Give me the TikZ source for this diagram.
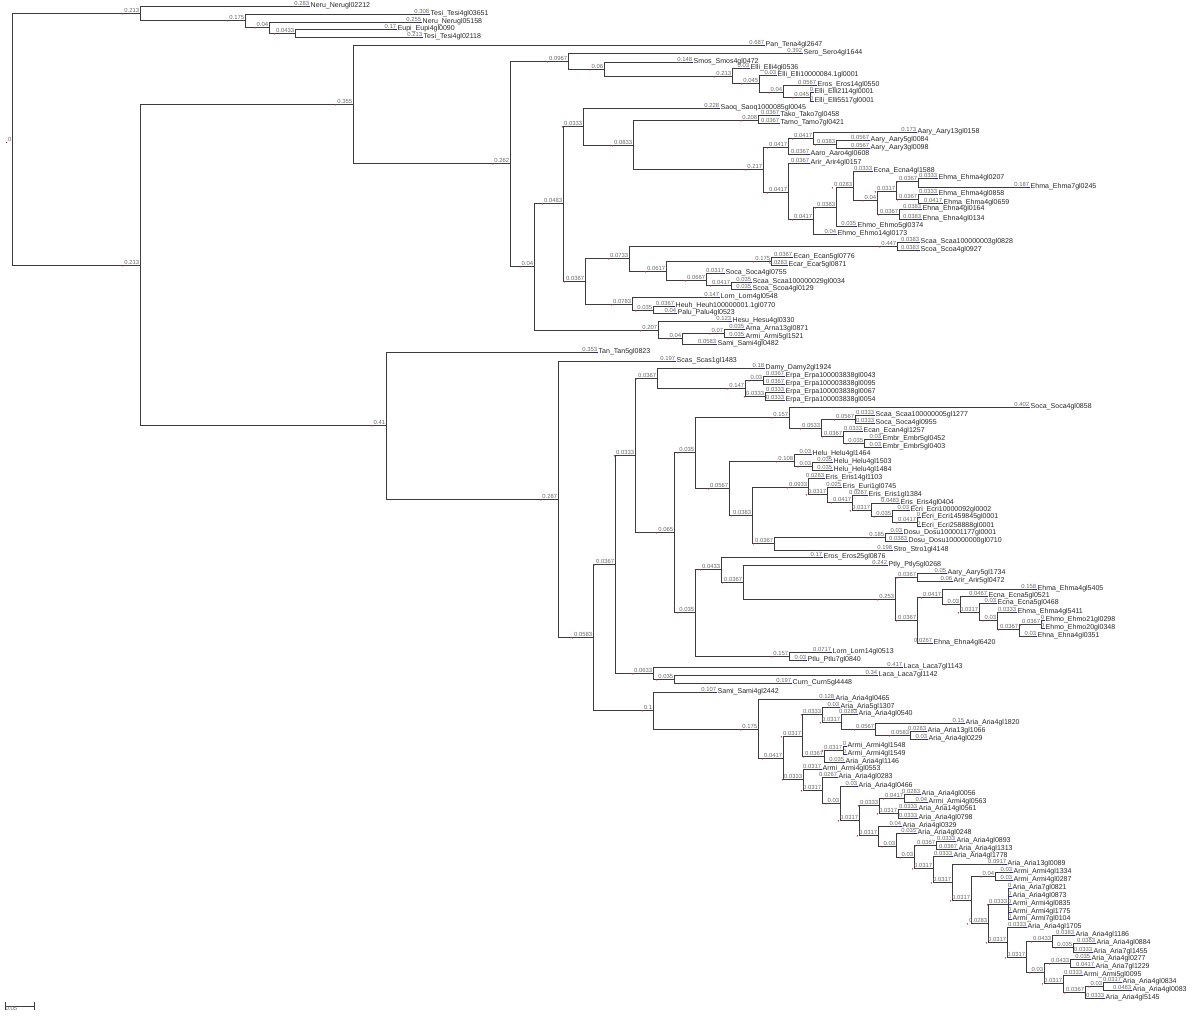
\documentclass[tikz,border=0pt]{standalone}
\usepackage{fontspec}
\setmainfont{Liberation Sans}
\usetikzlibrary{backgrounds}
\definecolor{branchgray}{RGB}{60, 60, 60}
\definecolor{lengray}{RGB}{105, 105, 105}
\definecolor{tipblue}{RGB}{30, 30, 210}
\definecolor{nodered}{RGB}{210, 40, 40}

\begin{document}
\begin{tikzpicture}[x=0.025cm, y=-0.025cm,
    branch/.style={draw=branchgray, line width=0.6pt},
    blen/.style={anchor=south east, inner sep=0.3pt, text=lengray, font=\fontsize{4.2}{4.2}\selectfont},
    reddot/.style={circle, fill=nodered, inner sep=0pt, minimum size=1.1pt},
    ilen/.style={blen, label={[reddot]south west:{}}},
    leaf/.style={anchor=west, inner sep=0.3pt, text=black!85, font=\fontsize{5}{5}\selectfont,
        append after command={([xshift=-2.4pt]\tikzlastnode.west) edge[draw=tipblue, line width=0.7pt] (\tikzlastnode.west)}}
]
\useasboundingbox (0,0) rectangle (1200,1016);

% Internal nodes
\coordinate (root) at (12,139);
\coordinate (a1) at (140,13); \coordinate (a2) at (245,20); \coordinate (a3) at (269,27); \coordinate (a4) at (295,33);
\coordinate (b1) at (140,265); \coordinate (b2) at (353,104); \coordinate (b3) at (510,163); \coordinate (b4) at (568,61);
\coordinate (b5) at (534,266); \coordinate (b6) at (604,69); \coordinate (b7) at (732,76); \coordinate (b8) at (759,83);
\coordinate (b9) at (783,92); \coordinate (b10) at (810,97); \coordinate (b11) at (563,203); \coordinate (b12) at (658,330);
\coordinate (b13) at (583,126); \coordinate (b14) at (585,281); \coordinate (b15) at (633,145); \coordinate (b16) at (758,120);
\coordinate (b17) at (763,169); \coordinate (b18) at (788,147); \coordinate (b19) at (788,192); \coordinate (b20) at (813,138);
\coordinate (b21) at (836,144); \coordinate (b22) at (813,219); \coordinate (b23) at (836,207); \coordinate (b24) at (853,187);
\coordinate (b25) at (877,200); \coordinate (b26) at (896,191); \coordinate (b27) at (899,214); \coordinate (b28) at (918,181);
\coordinate (b29) at (918,199); \coordinate (b30) at (629,258); \coordinate (b31) at (632,304); \coordinate (b32) at (897,246);
\coordinate (b33) at (666,271); \coordinate (b34) at (771,261); \coordinate (b35) at (706,280); \coordinate (b36) at (731,285);
\coordinate (b37) at (653,310); \coordinate (b38) at (682,338); \coordinate (b39) at (724,333);
\coordinate (c1) at (386,425); \coordinate (c2) at (558,499); \coordinate (c3) at (593,637); \coordinate (c4) at (615,564);
\coordinate (c5) at (653,710); \coordinate (c6) at (635,455); \coordinate (c7) at (653,673); \coordinate (c8) at (657,378);
\coordinate (c9) at (674,532); \coordinate (c10) at (745,388); \coordinate (c11) at (763,380); \coordinate (c12) at (765,396);
\coordinate (c13) at (695,452); \coordinate (c14) at (695,612); \coordinate (c15) at (789,417); \coordinate (c16) at (729,488);
\coordinate (c17) at (821,428); \coordinate (c18) at (855,419); \coordinate (c19) at (843,436); \coordinate (c20) at (864,443);
\coordinate (c21) at (794,461); \coordinate (c22) at (752,515); \coordinate (c23) at (812,466); \coordinate (c24) at (808,487);
\coordinate (c25) at (774,543); \coordinate (c26) at (827,494); \coordinate (c27) at (852,502); \coordinate (c28) at (871,510);
\coordinate (c29) at (892,516); \coordinate (c30) at (917,522); \coordinate (c31) at (885,537); \coordinate (c32) at (721,569);
\coordinate (c33) at (789,656); \coordinate (c34) at (743,582); \coordinate (c35) at (895,599); \coordinate (c36) at (917,577);
\coordinate (c37) at (917,620); \coordinate (c38) at (942,597); \coordinate (c39) at (960,604); \coordinate (c40) at (979,612);
\coordinate (c41) at (997,620); \coordinate (c42) at (1019,629); \coordinate (c43) at (1041,624); \coordinate (c44) at (674,679);
\coordinate (c45) at (758,729); \coordinate (c46) at (783,758); \coordinate (c47) at (802,736); \coordinate (c48) at (803,779);
\coordinate (c49) at (822,714); \coordinate (c50) at (824,756); \coordinate (c51) at (841,722); \coordinate (c52) at (875,729);
\coordinate (c53) at (910,735); \coordinate (c54) at (843,750); \coordinate (c55) at (822,790); \coordinate (c56) at (840,803);
\coordinate (c57) at (859,820); \coordinate (c58) at (879,805); \coordinate (c59) at (878,835); \coordinate (c60) at (904,798);
\coordinate (c61) at (898,813); \coordinate (c62) at (896,846); \coordinate (c63) at (914,857); \coordinate (c64) at (936,845);
\coordinate (c65) at (933,868); \coordinate (c66) at (952,882); \coordinate (c67) at (971,900); \coordinate (c68) at (995,876);
\coordinate (c69) at (988,923); \coordinate (c70) at (1008,904); \coordinate (c71) at (1007,942); \coordinate (c72) at (1026,957);
\coordinate (c73) at (1052,941); \coordinate (c74) at (1044,972); \coordinate (c75) at (1073,947); \coordinate (c76) at (1070,963);
\coordinate (c77) at (1063,983); \coordinate (c78) at (1085,992); \coordinate (c79) at (1103,986);

% Root label
\node[ilen, anchor=east] (rootlen) at (root) {0};

% Leaves
\node[leaf] (L1) at (310,6) {Neru\_Nerugl02212};
\node[leaf] (L2) at (430,14) {Tesi\_Tesi4gl03651};
\node[leaf] (L3) at (422,22) {Neru\_Nerugl05158};
\node[leaf] (L4) at (397,29) {Eupi\_Eupi4gl0090};
\node[leaf] (L5) at (423,37) {Tesi\_Tesi4gl02118};
\node[leaf] (L6) at (765,45) {Pan\_Tena4gl2647};
\node[leaf] (L7) at (803,53) {Sero\_Sero4gl1644};
\node[leaf] (L8) at (693,62) {Smos\_Smos4gl0472};
\node[leaf] (L9) at (750,68) {Elli\_Elli4gl0536};
\node[leaf] (L10) at (777,75) {Elli\_Elli10000084.1gl0001};
\node[leaf] (L11) at (817,85) {Eros\_Eros14gl0550};
\node[leaf] (L12) at (814,92) {Elli\_Elli2114gl0001};
\node[leaf] (L13) at (814,101) {Elli\_Elli5517gl0001};
\node[leaf] (L14) at (720,108) {Saoq\_Saoq1000085gl0045};
\node[leaf] (L15) at (780,115) {Tako\_Tako7gl0458};
\node[leaf] (L16) at (780,123) {Tamo\_Tamo7gl0421};
\node[leaf] (L18) at (917,132) {Aary\_Aary13gl0158};
\node[leaf] (L19) at (870,140) {Aary\_Aary5gl0084};
\node[leaf] (L20) at (870,148) {Aary\_Aary3gl0098};
\node[leaf] (L17) at (810,154) {Aaro\_Aaro4gl0608};
\node[leaf] (L21) at (810,163) {Arir\_Arir4gl0157};
\node[leaf] (L24) at (873,171) {Ecna\_Ecna4gl1588};
\node[leaf] (L25) at (938,178) {Ehma\_Ehma4gl0207};
\node[leaf] (L26) at (1030,187) {Ehma\_Ehma7gl0245};
\node[leaf] (L27) at (938,194) {Ehma\_Ehma4gl0858};
\node[leaf] (L28) at (943,203) {Ehma\_Ehma4gl0659};
\node[leaf] (L29) at (922,209) {Ehna\_Ehna4gl0164};
\node[leaf] (L30) at (922,219) {Ehna\_Ehna4gl0134};
\node[leaf] (L23) at (857,226) {Ehmo\_Ehmo5gl0374};
\node[leaf] (L22) at (837,234) {Ehmo\_Ehmo14gl0173};
\node[leaf] (L31) at (920,242) {Scaa\_Scaa100000003gl0828};
\node[leaf] (L32) at (920,250) {Scoa\_Scoa4gl0927};
\node[leaf] (L33) at (793,257) {Ecan\_Ecan5gl0776};
\node[leaf] (L34) at (788,265) {Ecar\_Ecar5gl0871};
\node[leaf] (L35) at (725,273) {Soca\_Soca4gl0755};
\node[leaf] (L36) at (752,282) {Scaa\_Scaa100000029gl0034};
\node[leaf] (L37) at (752,289) {Scoa\_Scoa4gl0129};
\node[leaf] (L38) at (720,297) {Lorn\_Lorn4gl0548};
\node[leaf] (L39) at (675,306) {Heuh\_Heuh100000001.1gl0770};
\node[leaf] (L40) at (677,313) {Palu\_Palu4gl0523};
\node[leaf] (L41) at (732,321) {Hesu\_Hesu4gl0330};
\node[leaf] (L43) at (745,329) {Arna\_Arna13gl0871};
\node[leaf] (L44) at (745,337) {Armi\_Armi5gl1521};
\node[leaf] (L42) at (717,344) {Sami\_Sami4gl0482};
\node[leaf] (L45) at (598,352) {Tan\_Tan5gl0823};
\node[leaf] (L46) at (676,361) {Scas\_Scas1gl1483};
\node[leaf] (L47) at (765,368) {Damy\_Damy2gl1924};
\node[leaf] (L48) at (785,376) {Erpa\_Erpa100003838gl0043};
\node[leaf] (L49) at (785,384) {Erpa\_Erpa100003838gl0095};
\node[leaf] (L50) at (785,392) {Erpa\_Erpa100003838gl0067};
\node[leaf] (L51) at (785,400) {Erpa\_Erpa100003838gl0054};
\node[leaf] (L52) at (1030,407) {Soca\_Soca4gl0858};
\node[leaf] (L53) at (875,415) {Scaa\_Scaa100000005gl1277};
\node[leaf] (L54) at (875,423) {Soca\_Soca4gl0955};
\node[leaf] (L55) at (863,431) {Ecan\_Ecan4gl1257};
\node[leaf] (L56) at (882,439) {Embr\_Embr5gl0452};
\node[leaf] (L57) at (882,447) {Embr\_Embr5gl0403};
\node[leaf] (L58) at (812,454) {Helu\_Helu4gl1464};
\node[leaf] (L59) at (833,462) {Helu\_Helu4gl1503};
\node[leaf] (L60) at (833,470) {Helu\_Helu4gl1484};
\node[leaf] (L61) at (825,478) {Eris\_Eris14gl1103};
\node[leaf] (L62) at (842,487) {Eris\_Euri1gl0745};
\node[leaf] (L63) at (868,495) {Eris\_Eris1gl1384};
\node[leaf] (L64) at (900,503) {Eris\_Eris4gl0404};
\node[leaf] (L65) at (910,510) {Ecri\_Ecri10000092gl0002};
\node[leaf] (L66) at (921,517) {Ecri\_Ecri1459845gl0001};
\node[leaf] (L67) at (921,526) {Ecri\_Ecri258888gl0001};
\node[leaf] (L69) at (903,533) {Dosu\_Dosu100001177gl0001};
\node[leaf] (L70) at (908,541) {Dosu\_Dosu100000000gl0710};
\node[leaf] (L68) at (893,550) {Stro\_Stro1gl4148};
\node[leaf] (L73) at (823,557) {Eros\_Eros25gl0876};
\node[leaf] (L74) at (888,565) {Ptly\_Ptly5gl0268};
\node[leaf] (L75) at (947,573) {Aary\_Aary5gl1734};
\node[leaf] (L76) at (953,581) {Arir\_Arir5gl0472};
\node[leaf] (L78) at (1037,589) {Ehma\_Ehma4gl5405};
\node[leaf] (L79) at (988,596) {Ecna\_Ecna5gl0521};
\node[leaf] (L80) at (997,603) {Ecna\_Ecna5gl0468};
\node[leaf] (L81) at (1017,612) {Ehma\_Ehma4gl5411};
\node[leaf] (L83) at (1045,620) {Ehmo\_Ehmo21gl0298};
\node[leaf] (L84) at (1045,628) {Ehmo\_Ehmo20gl0348};
\node[leaf] (L82) at (1037,636) {Ehna\_Ehna4gl0351};
\node[leaf] (L77) at (933,643) {Ehna\_Ehna4gl6420};
\node[leaf] (L71) at (832,652) {Lorn\_Lorn14gl0513};
\node[leaf] (L72) at (807,660) {Ptlu\_Ptlu7gl0840};
\node[leaf] (L85) at (903,667) {Laca\_Laca7gl1143};
\node[leaf] (L86) at (878,675) {Laca\_Laca7gl1142};
\node[leaf] (L87) at (792,683) {Curn\_Curn5gl4448};
\node[leaf] (L88) at (717,692) {Sami\_Sami4gl2442};
\node[leaf] (L89) at (835,699) {Aria\_Aria4gl0465};
\node[leaf] (L90) at (840,707) {Aria\_Aria5gl1307};
\node[leaf] (L91) at (858,714) {Aria\_Aria4gl0540};
\node[leaf] (L92) at (965,723) {Aria\_Aria4gl1820};
\node[leaf] (L93) at (927,731) {Aria\_Aria13gl1066};
\node[leaf] (L94) at (928,739) {Aria\_Aria4gl0229};
\node[leaf] (L96) at (847,746) {Armi\_Armi4gl1548};
\node[leaf] (L97) at (847,754) {Armi\_Armi4gl1549};
\node[leaf] (L95) at (845,762) {Aria\_Aria4gl1146};
\node[leaf] (L98) at (822,769) {Armi\_Armi4gl0553};
\node[leaf] (L99) at (838,777) {Aria\_Aria4gl0283};
\node[leaf] (L100) at (858,786) {Aria\_Aria4gl0466};
\node[leaf] (L101) at (921,794) {Aria\_Aria4gl0056};
\node[leaf] (L102) at (928,802) {Armi\_Armi4gl0563};
\node[leaf] (L103) at (918,809) {Aria\_Aria14gl0561};
\node[leaf] (L104) at (918,818) {Aria\_Aria4gl0798};
\node[leaf] (L105) at (902,826) {Aria\_Aria4gl0329};
\node[leaf] (L106) at (917,833) {Aria\_Aria4gl0248};
\node[leaf] (L107) at (956,841) {Aria\_Aria4gl0893};
\node[leaf] (L108) at (958,849) {Aria\_Aria4gl1313};
\node[leaf] (L109) at (953,856) {Aria\_Aria4gl1778};
\node[leaf] (L110) at (1007,864) {Aria\_Aria13gl0089};
\node[leaf] (L111) at (1013,872) {Armi\_Armi4gl1334};
\node[leaf] (L112) at (1013,880) {Armi\_Armi4gl0287};
\node[leaf] (L113) at (1012,888) {Aria\_Aria7gl0821};
\node[leaf] (L114) at (1012,896) {Aria\_Aria4gl0873};
\node[leaf] (L115) at (1012,904) {Armi\_Armi4gl0835};
\node[leaf] (L116) at (1012,912) {Armi\_Armi4gl1775};
\node[leaf] (L117) at (1012,919) {Armi\_Armi7gl0104};
\node[leaf] (L118) at (1027,927) {Aria\_Aria4gl1705};
\node[leaf] (L119) at (1075,935) {Aria\_Aria4gl1186};
\node[leaf] (L120) at (1096,943) {Aria\_Aria4gl0884};
\node[leaf] (L121) at (1093,952) {Aria\_Aria7gl1455};
\node[leaf] (L122) at (1091,959) {Aria\_Aria4gl0277};
\node[leaf] (L123) at (1095,967) {Aria\_Aria7gl1229};
\node[leaf] (L124) at (1083,975) {Armi\_Armi5gl0095};
\node[leaf] (L126) at (1122,982) {Aria\_Aria4gl0834};
\node[leaf] (L127) at (1132,990) {Aria\_Aria4gl0083};
\node[leaf] (L125) at (1105,998) {Aria\_Aria4gl5145};

% Branches
\begin{scope}[on background layer]
\draw[branch] (root) |- (a1) node[ilen] {0.213};
\draw[branch] (root) |- (b1) node[ilen] {0.213};
\draw[branch] (a1) |- (L1.west) node[blen] {0.283};
\draw[branch] (a1) |- (a2) node[ilen] {0.175};
\draw[branch] (a2) |- (L2.west) node[blen] {0.308};
\draw[branch] (a2) |- (a3) node[ilen] {0.04};
\draw[branch] (a3) |- (L3.west) node[blen] {0.255};
\draw[branch] (a3) |- (a4) node[ilen] {0.0433};
\draw[branch] (a4) |- (L4.west) node[blen] {0.17};
\draw[branch] (a4) |- (L5.west) node[blen] {0.213};
\draw[branch] (b1) |- (b2) node[ilen] {0.355};
\draw[branch] (b1) |- (c1) node[ilen] {0.41};
\draw[branch] (b2) |- (L6.west) node[blen] {0.687};
\draw[branch] (b2) |- (b3) node[ilen] {0.262};
\draw[branch] (b3) |- (b4) node[ilen] {0.0967};
\draw[branch] (b3) |- (b5) node[ilen] {0.04};
\draw[branch] (b4) |- (L7.west) node[blen] {0.392};
\draw[branch] (b4) |- (b6) node[ilen] {0.06};
\draw[branch] (b6) |- (L8.west) node[blen] {0.148};
\draw[branch] (b6) |- (b7) node[ilen] {0.213};
\draw[branch] (b7) |- (L9.west) node[blen] {0.03};
\draw[branch] (b7) |- (b8) node[ilen] {0.045};
\draw[branch] (b8) |- (L10.west) node[blen] {0.03};
\draw[branch] (b8) |- (b9) node[ilen] {0.04};
\draw[branch] (b9) |- (L11.west) node[blen] {0.0567};
\draw[branch] (b9) |- (b10) node[ilen] {0.045};
\draw[branch] (b10) |- (L12.west) node[blen] {0};
\draw[branch] (b10) |- (L13.west) node[blen] {0};
\draw[branch] (b5) |- (b11) node[ilen] {0.0483};
\draw[branch] (b5) |- (b12) node[ilen] {0.207};
\draw[branch] (b11) |- (b13) node[ilen] {0.0333};
\draw[branch] (b11) |- (b14) node[ilen] {0.0367};
\draw[branch] (b13) |- (L14.west) node[blen] {0.228};
\draw[branch] (b13) |- (b15) node[ilen] {0.0833};
\draw[branch] (b15) |- (b16) node[ilen] {0.208};
\draw[branch] (b15) |- (b17) node[ilen] {0.217};
\draw[branch] (b16) |- (L15.west) node[blen] {0.0367};
\draw[branch] (b16) |- (L16.west) node[blen] {0.0367};
\draw[branch] (b17) |- (b18) node[ilen] {0.0417};
\draw[branch] (b17) |- (b19) node[ilen] {0.0417};
\draw[branch] (b18) |- (b20) node[ilen] {0.0417};
\draw[branch] (b18) |- (L17.west) node[blen] {0.0367};
\draw[branch] (b20) |- (L18.west) node[blen] {0.173};
\draw[branch] (b20) |- (b21) node[ilen] {0.0383};
\draw[branch] (b21) |- (L19.west) node[blen] {0.0567};
\draw[branch] (b21) |- (L20.west) node[blen] {0.0567};
\draw[branch] (b19) |- (L21.west) node[blen] {0.0367};
\draw[branch] (b19) |- (b22) node[ilen] {0.0417};
\draw[branch] (b22) |- (b23) node[ilen] {0.0383};
\draw[branch] (b22) |- (L22.west) node[blen] {0.04};
\draw[branch] (b23) |- (b24) node[ilen] {0.0283};
\draw[branch] (b23) |- (L23.west) node[blen] {0.035};
\draw[branch] (b24) |- (L24.west) node[blen] {0.0333};
\draw[branch] (b24) |- (b25) node[ilen] {0.04};
\draw[branch] (b25) |- (b26) node[ilen] {0.0317};
\draw[branch] (b25) |- (b27) node[ilen] {0.0367};
\draw[branch] (b26) |- (b28) node[ilen] {0.0367};
\draw[branch] (b26) |- (b29) node[ilen] {0.0367};
\draw[branch] (b28) |- (L25.west) node[blen] {0.0333};
\draw[branch] (b28) |- (L26.west) node[blen] {0.187};
\draw[branch] (b29) |- (L27.west) node[blen] {0.0333};
\draw[branch] (b29) |- (L28.west) node[blen] {0.0417};
\draw[branch] (b27) |- (L29.west) node[blen] {0.0383};
\draw[branch] (b27) |- (L30.west) node[blen] {0.0383};
\draw[branch] (b14) |- (b30) node[ilen] {0.0733};
\draw[branch] (b14) |- (b31) node[ilen] {0.0783};
\draw[branch] (b30) |- (b32) node[ilen] {0.447};
\draw[branch] (b30) |- (b33) node[ilen] {0.0617};
\draw[branch] (b32) |- (L31.west) node[blen] {0.0383};
\draw[branch] (b32) |- (L32.west) node[blen] {0.0383};
\draw[branch] (b33) |- (b34) node[ilen] {0.175};
\draw[branch] (b33) |- (b35) node[ilen] {0.0667};
\draw[branch] (b34) |- (L33.west) node[blen] {0.0367};
\draw[branch] (b34) |- (L34.west) node[blen] {0.0283};
\draw[branch] (b35) |- (L35.west) node[blen] {0.0317};
\draw[branch] (b35) |- (b36) node[ilen] {0.0417};
\draw[branch] (b36) |- (L36.west) node[blen] {0.035};
\draw[branch] (b36) |- (L37.west) node[blen] {0.035};
\draw[branch] (b31) |- (L38.west) node[blen] {0.147};
\draw[branch] (b31) |- (b37) node[ilen] {0.035};
\draw[branch] (b37) |- (L39.west) node[blen] {0.0367};
\draw[branch] (b37) |- (L40.west) node[blen] {0.04};
\draw[branch] (b12) |- (L41.west) node[blen] {0.123};
\draw[branch] (b12) |- (b38) node[ilen] {0.04};
\draw[branch] (b38) |- (b39) node[ilen] {0.07};
\draw[branch] (b38) |- (L42.west) node[blen] {0.0583};
\draw[branch] (b39) |- (L43.west) node[blen] {0.035};
\draw[branch] (b39) |- (L44.west) node[blen] {0.035};
\draw[branch] (c1) |- (L45.west) node[blen] {0.353};
\draw[branch] (c1) |- (c2) node[ilen] {0.287};
\draw[branch] (c2) |- (L46.west) node[blen] {0.197};
\draw[branch] (c2) |- (c3) node[ilen] {0.0583};
\draw[branch] (c3) |- (c4) node[ilen] {0.0367};
\draw[branch] (c3) |- (c5) node[ilen] {0.1};
\draw[branch] (c4) |- (c6) node[ilen] {0.0333};
\draw[branch] (c4) |- (c7) node[ilen] {0.0633};
\draw[branch] (c6) |- (c8) node[ilen] {0.0367};
\draw[branch] (c6) |- (c9) node[ilen] {0.065};
\draw[branch] (c8) |- (L47.west) node[blen] {0.18};
\draw[branch] (c8) |- (c10) node[ilen] {0.147};
\draw[branch] (c10) |- (c11) node[ilen] {0.03};
\draw[branch] (c10) |- (c12) node[ilen] {0.0333};
\draw[branch] (c11) |- (L48.west) node[blen] {0.0367};
\draw[branch] (c11) |- (L49.west) node[blen] {0.0367};
\draw[branch] (c12) |- (L50.west) node[blen] {0.0333};
\draw[branch] (c12) |- (L51.west) node[blen] {0.0333};
\draw[branch] (c9) |- (c13) node[ilen] {0.035};
\draw[branch] (c9) |- (c14) node[ilen] {0.035};
\draw[branch] (c13) |- (c15) node[ilen] {0.157};
\draw[branch] (c13) |- (c16) node[ilen] {0.0567};
\draw[branch] (c15) |- (L52.west) node[blen] {0.402};
\draw[branch] (c15) |- (c17) node[ilen] {0.0533};
\draw[branch] (c17) |- (c18) node[ilen] {0.0567};
\draw[branch] (c17) |- (c19) node[ilen] {0.0367};
\draw[branch] (c18) |- (L53.west) node[blen] {0.0333};
\draw[branch] (c18) |- (L54.west) node[blen] {0.0333};
\draw[branch] (c19) |- (L55.west) node[blen] {0.0333};
\draw[branch] (c19) |- (c20) node[ilen] {0.035};
\draw[branch] (c20) |- (L56.west) node[blen] {0.03};
\draw[branch] (c20) |- (L57.west) node[blen] {0.03};
\draw[branch] (c16) |- (c21) node[ilen] {0.108};
\draw[branch] (c16) |- (c22) node[ilen] {0.0383};
\draw[branch] (c21) |- (L58.west) node[blen] {0.03};
\draw[branch] (c21) |- (c23) node[ilen] {0.03};
\draw[branch] (c23) |- (L59.west) node[blen] {0.035};
\draw[branch] (c23) |- (L60.west) node[blen] {0.035};
\draw[branch] (c22) |- (c24) node[ilen] {0.0933};
\draw[branch] (c22) |- (c25) node[ilen] {0.0367};
\draw[branch] (c24) |- (L61.west) node[blen] {0.0283};
\draw[branch] (c24) |- (c26) node[ilen] {0.0317};
\draw[branch] (c26) |- (L62.west) node[blen] {0.025};
\draw[branch] (c26) |- (c27) node[ilen] {0.0417};
\draw[branch] (c27) |- (L63.west) node[blen] {0.0267};
\draw[branch] (c27) |- (c28) node[ilen] {0.0317};
\draw[branch] (c28) |- (L64.west) node[blen] {0.0483};
\draw[branch] (c28) |- (c29) node[ilen] {0.035};
\draw[branch] (c29) |- (L65.west) node[blen] {0.03};
\draw[branch] (c29) |- (c30) node[ilen] {0.0417};
\draw[branch] (c30) |- (L66.west) node[blen] {0};
\draw[branch] (c30) |- (L67.west) node[blen] {0};
\draw[branch] (c25) |- (c31) node[ilen] {0.185};
\draw[branch] (c25) |- (L68.west) node[blen] {0.198};
\draw[branch] (c31) |- (L69.west) node[blen] {0.03};
\draw[branch] (c31) |- (L70.west) node[blen] {0.0383};
\draw[branch] (c14) |- (c32) node[ilen] {0.0433};
\draw[branch] (c14) |- (c33) node[ilen] {0.157};
\draw[branch] (c32) |- (L73.west) node[blen] {0.17};
\draw[branch] (c32) |- (c34) node[ilen] {0.0367};
\draw[branch] (c34) |- (L74.west) node[blen] {0.242};
\draw[branch] (c34) |- (c35) node[ilen] {0.253};
\draw[branch] (c35) |- (c36) node[ilen] {0.0367};
\draw[branch] (c35) |- (c37) node[ilen] {0.0367};
\draw[branch] (c36) |- (L75.west) node[blen] {0.05};
\draw[branch] (c36) |- (L76.west) node[blen] {0.06};
\draw[branch] (c37) |- (c38) node[ilen] {0.0417};
\draw[branch] (c37) |- (L77.west) node[blen] {0.0267};
\draw[branch] (c38) |- (L78.west) node[blen] {0.158};
\draw[branch] (c38) |- (c39) node[ilen] {0.03};
\draw[branch] (c39) |- (L79.west) node[blen] {0.0467};
\draw[branch] (c39) |- (c40) node[ilen] {0.0317};
\draw[branch] (c40) |- (L80.west) node[blen] {0.03};
\draw[branch] (c40) |- (c41) node[ilen] {0.03};
\draw[branch] (c41) |- (L81.west) node[blen] {0.0333};
\draw[branch] (c41) |- (c42) node[ilen] {0.0367};
\draw[branch] (c42) |- (c43) node[ilen] {0.0367};
\draw[branch] (c42) |- (L82.west) node[blen] {0.03};
\draw[branch] (c43) |- (L83.west) node[blen] {0};
\draw[branch] (c43) |- (L84.west) node[blen] {0};
\draw[branch] (c33) |- (L71.west) node[blen] {0.0717};
\draw[branch] (c33) |- (L72.west) node[blen] {0.03};
\draw[branch] (c7) |- (L85.west) node[blen] {0.417};
\draw[branch] (c7) |- (c44) node[ilen] {0.035};
\draw[branch] (c44) |- (L86.west) node[blen] {0.34};
\draw[branch] (c44) |- (L87.west) node[blen] {0.197};
\draw[branch] (c5) |- (L88.west) node[blen] {0.107};
\draw[branch] (c5) |- (c45) node[ilen] {0.175};
\draw[branch] (c45) |- (L89.west) node[blen] {0.128};
\draw[branch] (c45) |- (c46) node[ilen] {0.0417};
\draw[branch] (c46) |- (c47) node[ilen] {0.0317};
\draw[branch] (c46) |- (c48) node[ilen] {0.0333};
\draw[branch] (c47) |- (c49) node[ilen] {0.0333};
\draw[branch] (c47) |- (c50) node[ilen] {0.0367};
\draw[branch] (c49) |- (L90.west) node[blen] {0.03};
\draw[branch] (c49) |- (c51) node[ilen] {0.0317};
\draw[branch] (c51) |- (L91.west) node[blen] {0.0283};
\draw[branch] (c51) |- (c52) node[ilen] {0.0567};
\draw[branch] (c52) |- (L92.west) node[blen] {0.15};
\draw[branch] (c52) |- (c53) node[ilen] {0.0583};
\draw[branch] (c53) |- (L93.west) node[blen] {0.0283};
\draw[branch] (c53) |- (L94.west) node[blen] {0.03};
\draw[branch] (c50) |- (c54) node[ilen] {0.0317};
\draw[branch] (c50) |- (L95.west) node[blen] {0.035};
\draw[branch] (c54) |- (L96.west) node[blen] {0};
\draw[branch] (c54) |- (L97.west) node[blen] {0};
\draw[branch] (c48) |- (L98.west) node[blen] {0.0317};
\draw[branch] (c48) |- (c55) node[ilen] {0.0317};
\draw[branch] (c55) |- (L99.west) node[blen] {0.0267};
\draw[branch] (c55) |- (c56) node[ilen] {0.03};
\draw[branch] (c56) |- (L100.west) node[blen] {0.03};
\draw[branch] (c56) |- (c57) node[ilen] {0.0317};
\draw[branch] (c57) |- (c58) node[ilen] {0.0333};
\draw[branch] (c57) |- (c59) node[ilen] {0.0317};
\draw[branch] (c58) |- (c60) node[ilen] {0.0417};
\draw[branch] (c58) |- (c61) node[ilen] {0.0317};
\draw[branch] (c60) |- (L101.west) node[blen] {0.0283};
\draw[branch] (c60) |- (L102.west) node[blen] {0.04};
\draw[branch] (c61) |- (L103.west) node[blen] {0.0333};
\draw[branch] (c61) |- (L104.west) node[blen] {0.0333};
\draw[branch] (c59) |- (L105.west) node[blen] {0.04};
\draw[branch] (c59) |- (c62) node[ilen] {0.03};
\draw[branch] (c62) |- (L106.west) node[blen] {0.035};
\draw[branch] (c62) |- (c63) node[ilen] {0.03};
\draw[branch] (c63) |- (c64) node[ilen] {0.0367};
\draw[branch] (c63) |- (c65) node[ilen] {0.0317};
\draw[branch] (c64) |- (L107.west) node[blen] {0.0333};
\draw[branch] (c64) |- (L108.west) node[blen] {0.0367};
\draw[branch] (c65) |- (L109.west) node[blen] {0.0333};
\draw[branch] (c65) |- (c66) node[ilen] {0.0317};
\draw[branch] (c66) |- (L110.west) node[blen] {0.0917};
\draw[branch] (c66) |- (c67) node[ilen] {0.0317};
\draw[branch] (c67) |- (c68) node[ilen] {0.04};
\draw[branch] (c67) |- (c69) node[ilen] {0.0283};
\draw[branch] (c68) |- (L111.west) node[blen] {0.03};
\draw[branch] (c68) |- (L112.west) node[blen] {0.03};
\draw[branch] (c69) |- (c70) node[ilen] {0.0333};
\draw[branch] (c69) |- (c71) node[ilen] {0.0317};
\draw[branch] (c70) |- (L113.west) node[blen] {0};
\draw[branch] (c70) |- (L114.west) node[blen] {0};
\draw[branch] (c70) |- (L115.west) node[blen] {0};
\draw[branch] (c70) |- (L116.west) node[blen] {0};
\draw[branch] (c70) |- (L117.west) node[blen] {0};
\draw[branch] (c71) |- (L118.west) node[blen] {0.0333};
\draw[branch] (c71) |- (c72) node[ilen] {0.0317};
\draw[branch] (c72) |- (c73) node[ilen] {0.0433};
\draw[branch] (c72) |- (c74) node[ilen] {0.03};
\draw[branch] (c73) |- (L119.west) node[blen] {0.0383};
\draw[branch] (c73) |- (c75) node[ilen] {0.035};
\draw[branch] (c75) |- (L120.west) node[blen] {0.0383};
\draw[branch] (c75) |- (L121.west) node[blen] {0.0333};
\draw[branch] (c74) |- (c76) node[ilen] {0.0433};
\draw[branch] (c74) |- (c77) node[ilen] {0.0317};
\draw[branch] (c76) |- (L122.west) node[blen] {0.035};
\draw[branch] (c76) |- (L123.west) node[blen] {0.0417};
\draw[branch] (c77) |- (L124.west) node[blen] {0.0333};
\draw[branch] (c77) |- (c78) node[ilen] {0.0367};
\draw[branch] (c78) |- (c79) node[ilen] {0.03};
\draw[branch] (c78) |- (L125.west) node[blen] {0.0333};
\draw[branch] (c79) |- (L126.west) node[blen] {0.0317};
\draw[branch] (c79) |- (L127.west) node[blen] {0.0483};
\end{scope}

% Scale bar
\coordinate (sbl) at (5,1006);
\coordinate (sbr) at (35,1006);
\draw[branch, line width=0.4pt, |-|] (sbl) -- (sbr);
\node[blen, anchor=north west] (sblab) at (sbl) {0.05};

\end{tikzpicture}
\end{document}
